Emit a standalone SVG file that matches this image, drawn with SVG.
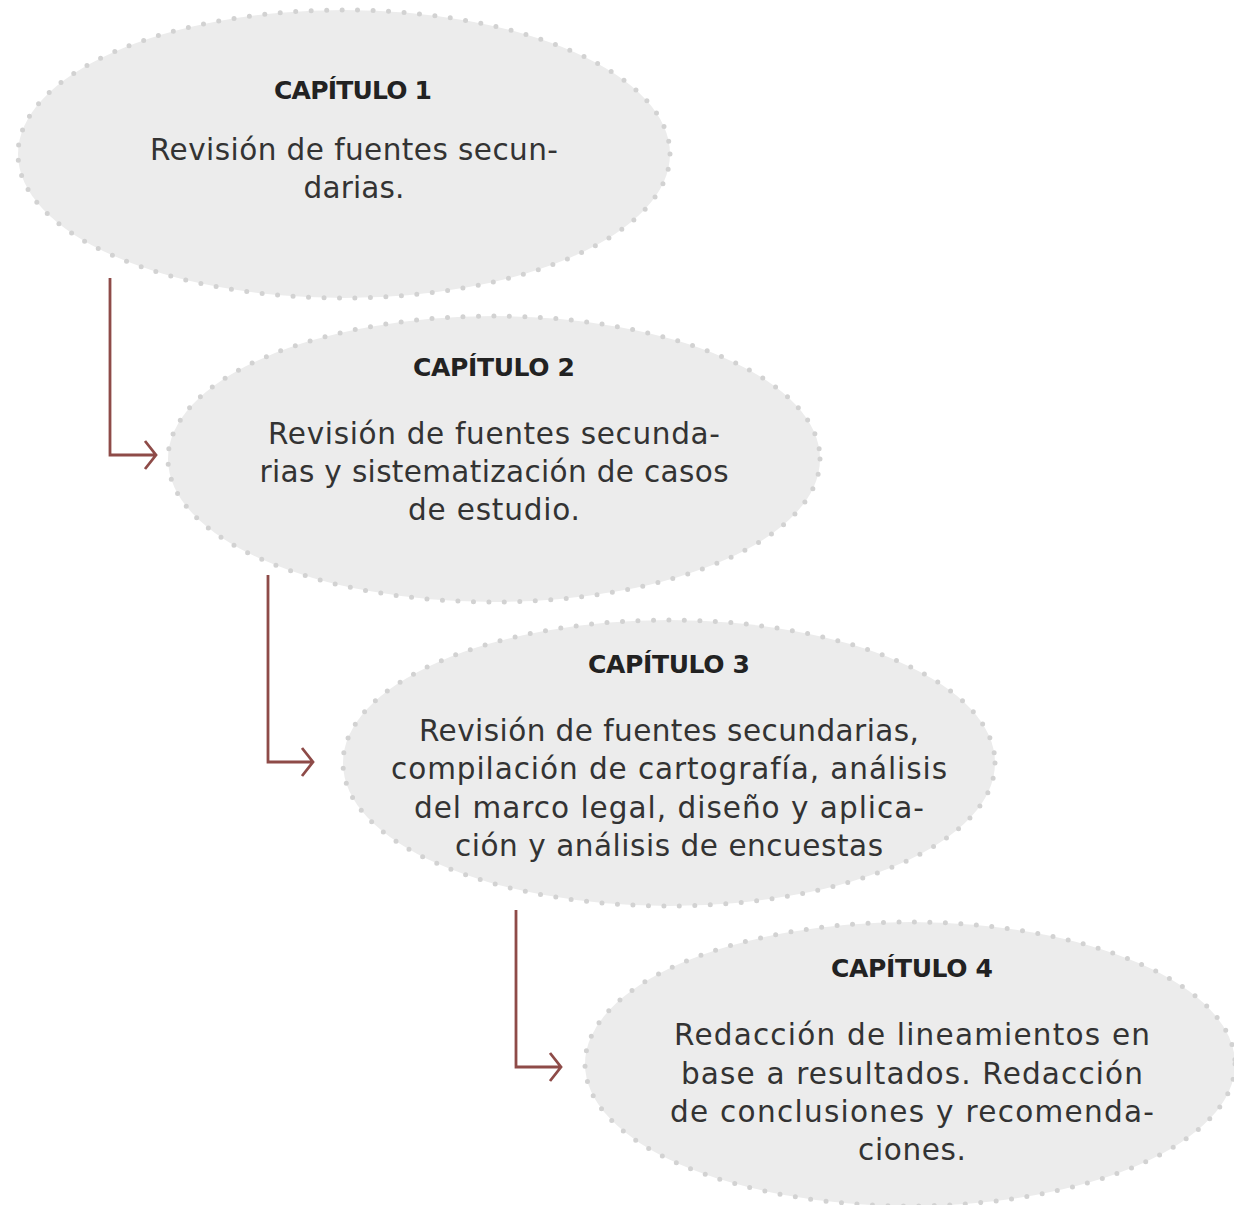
<svg xmlns="http://www.w3.org/2000/svg" width="1234" height="1205" viewBox="0 0 1234 1205">
<style>
.node ellipse{fill:#ececec;stroke:#d2d2d2;stroke-width:5;stroke-linecap:round;stroke-dasharray:0 15.5}
.t{font-family:"DejaVu Sans",sans-serif;font-weight:bold;font-size:25px;fill:#222;text-anchor:middle}
.b{font-family:"DejaVu Sans",sans-serif;font-size:29.5px;fill:#333;text-anchor:middle}
.c path{fill:none;stroke:#8e4b48;stroke-width:2.8}
</style>
<rect width="1234" height="1205" fill="#fff"/>
<g id="node1" class="node">
<ellipse cx="344" cy="154" rx="326" ry="144"/>
<text class="t" x="353" y="99" textLength="158">CAPÍTULO 1</text>
<text class="b" x="354" y="160" textLength="408">Revisión de fuentes secun-</text>
<text class="b" x="354" y="198" textLength="101">darias.</text>
</g>
<g id="node2" class="node">
<ellipse cx="494" cy="459" rx="326" ry="143"/>
<text class="t" x="494" y="376" textLength="162">CAPÍTULO 2</text>
<text class="b" x="494" y="444" textLength="452">Revisión de fuentes secunda-</text>
<text class="b" x="494" y="482" textLength="469">rias y sistematización de casos</text>
<text class="b" x="494" y="520" textLength="172">de estudio.</text>
</g>
<g id="node3" class="node">
<ellipse cx="669" cy="763" rx="326" ry="143"/>
<text class="t" x="669" y="673" textLength="162">CAPÍTULO 3</text>
<text class="b" x="669" y="741" textLength="500">Revisión de fuentes secundarias,</text>
<text class="b" x="669" y="779" textLength="556">compilación de cartografía, análisis</text>
<text class="b" x="669" y="818" textLength="510">del marco legal, diseño y aplica-</text>
<text class="b" x="669" y="856" textLength="428">ción y análisis de encuestas</text>
</g>
<g id="node4" class="node">
<ellipse cx="910" cy="1064" rx="325" ry="142"/>
<text class="t" x="912" y="977" textLength="162">CAPÍTULO 4</text>
<text class="b" x="912" y="1045" textLength="476">Redacción de lineamientos en</text>
<text class="b" x="912" y="1084" textLength="462">base a resultados. Redacción</text>
<text class="b" x="912" y="1122" textLength="484">de conclusiones y recomenda-</text>
<text class="b" x="912" y="1160" textLength="108">ciones.</text>
</g>
<g id="connectors" class="c">
<path d="M110 278V455H156M145 441L156 455L145 469"/>
<path d="M268 575V762H313M302 748L313 762L302 776"/>
<path d="M516 910V1067H561M550 1053L561 1067L550 1081"/>
</g>
</svg>
